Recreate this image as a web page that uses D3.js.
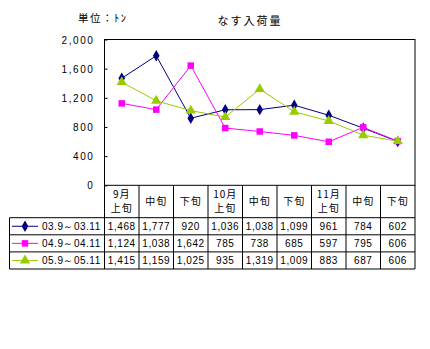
<!DOCTYPE html>
<html><head><meta charset="utf-8">
<script src="https://cdn.jsdelivr.net/npm/d3@7"></script>
<style>
body{margin:0;background:#fff;}
svg{display:block;}
text{font-family:"Noto Sans CJK JP","DejaVu Sans",sans-serif;fill:#000;}
</style></head><body>
<svg id="c" width="430" height="349"></svg>
<script>
const categories = [["9月","上旬"],["中旬"],["下旬"],["10月","上旬"],["中旬"],["下旬"],["11月","上旬"],["中旬"],["下旬"]];
const seriesNames = ["03.9～03.11","04.9～04.11","05.9～05.11"];
const s2003 = [1468,1777,920,1036,1038,1099,961,784,602];
const s2004 = [1124,1038,1642,785,738,685,597,795,606];
const s2005 = [1415,1159,1025,935,1319,1009,883,687,606];
const yTicks = [0,400,800,1200,1600,2000];
const colors = ["#000080","#FF00FF","#99CC00"];
const symbols = [d3.symbolDiamond, d3.symbolSquare, d3.symbolTriangle];
const symSizes = [38, 42, 46];
const series = [s2003, s2004, s2005];

const svg = d3.select("#c");
const L = 104.5, R = 415, T = 39.5, B = 185.3;
const tableLeft = 9.5, headerBottom = 217.7, rowH = 17.1;
const numFont = '"Liberation Sans",Arial,sans-serif';

const x = d3.scaleBand().domain(d3.range(categories.length)).range([L, R]).padding(0);
const y = d3.scaleLinear().domain([0, 2000]).range([B, T]);

// titles
svg.append("text").attr("x", 250).attr("y", 25).attr("text-anchor","middle")
  .attr("font-size", 11).attr("letter-spacing", 2).text("なす入荷量");
svg.append("text").attr("x", 78).attr("y", 22)
  .attr("font-size", 10.5).attr("letter-spacing", 1.5).text("単位：ﾄﾝ");

// plot border
svg.append("rect").attr("x", L).attr("y", T).attr("width", R - L).attr("height", B - T)
  .attr("fill", "none").attr("stroke", "#000").attr("stroke-width", 1);

// y axis
const yAxis = d3.axisLeft(y).tickValues(yTicks).tickSize(-3).tickPadding(10)
  .tickFormat(d3.format(","));
const ga = svg.append("g").attr("transform", `translate(${L},0)`).call(yAxis);
ga.select(".domain").remove();
ga.selectAll("line").attr("stroke", "#000");
ga.selectAll("text").attr("font-size", 10).attr("letter-spacing", 1.6)
  .style("font-family", numFont).attr("dy", "0.35em");

// lines and markers
series.forEach((s, i) => {
  const line = d3.line().x((d, j) => x(j) + x.bandwidth() / 2).y(d => y(d));
  svg.append("path").datum(s).attr("d", line).attr("fill", "none")
    .attr("stroke", colors[i]).attr("stroke-width", 1);
});
series.forEach((s, i) => {
  svg.append("g").selectAll("path").data(s).join("path")
    .attr("d", d3.symbol().type(symbols[i]).size(symSizes[i]))
    .attr("transform", (d, j) => `translate(${x(j) + x.bandwidth() / 2},${y(d)})`)
    .attr("fill", colors[i]);
});

// table
const tbl = svg.append("g").attr("stroke", "#000").attr("stroke-width", 1);
const tableBottom = headerBottom + rowH * 3;
d3.range(categories.length + 1).forEach(k => {
  const xx = k < categories.length ? x(k) : R;
  tbl.append("line").attr("x1", xx).attr("x2", xx).attr("y1", B).attr("y2", tableBottom);
});
tbl.append("line").attr("x1", tableLeft).attr("x2", tableLeft).attr("y1", headerBottom).attr("y2", tableBottom);
d3.range(4).forEach(r => {
  const yy = headerBottom + r * rowH;
  tbl.append("line").attr("x1", tableLeft).attr("x2", R).attr("y1", yy).attr("y2", yy);
});

// header labels
categories.forEach((c, j) => {
  const cx = x(j) + x.bandwidth() / 2;
  const cy = (B + headerBottom) / 2;
  c.forEach((t, k) => {
    const yy = c.length === 1 ? cy : cy + (k === 0 ? -7 : 7);
    svg.append("text").attr("x", cx).attr("y", yy).attr("dy", "0.35em")
      .attr("text-anchor", "middle").attr("font-size", 10).attr("letter-spacing", 1).text(t);
  });
});

// data rows
const fmt = d3.format(",");
series.forEach((s, i) => {
  const cy = headerBottom + rowH * i + rowH / 2;
  svg.append("line").attr("x1", 12).attr("x2", 38).attr("y1", cy).attr("y2", cy)
    .attr("stroke", colors[i]).attr("stroke-width", 1);
  svg.append("path").attr("d", d3.symbol().type(symbols[i]).size(symSizes[i])())
    .attr("transform", `translate(25,${cy})`).attr("fill", colors[i]);
  svg.append("text").attr("x", 42).attr("y", cy).attr("dy", "0.35em")
    .attr("font-size", 10).attr("letter-spacing", 0.5).style("font-family", numFont).text(seriesNames[i]);
  s.forEach((v, j) => {
    svg.append("text").attr("x", x(j) + x.bandwidth() / 2).attr("y", cy).attr("dy", "0.35em")
      .attr("text-anchor", "middle").attr("font-size", 10).attr("letter-spacing", 0.6)
      .style("font-family", numFont).text(fmt(v));
  });
});
</script></body></html>
